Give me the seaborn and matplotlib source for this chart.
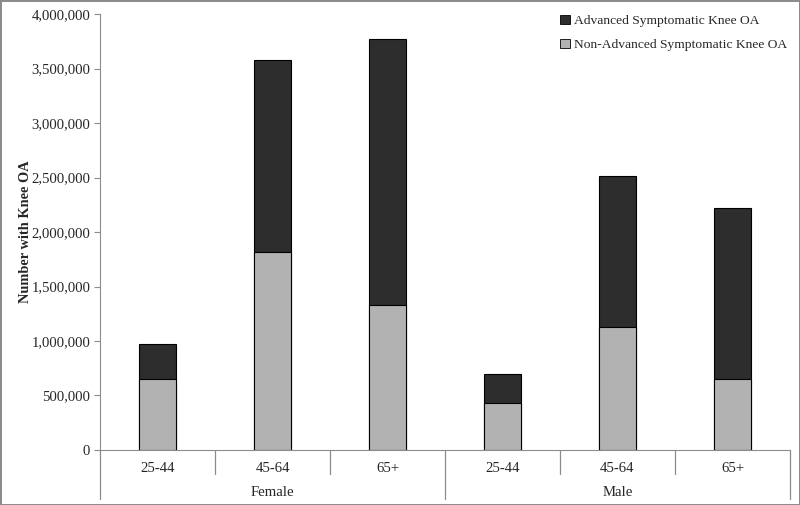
import numpy as np
import pandas as pd
import matplotlib
matplotlib.use("Agg")
import matplotlib.pyplot as plt
from matplotlib.patches import Patch
from matplotlib.ticker import FuncFormatter
import seaborn as sns

# --- dados ---
sexo = ["Female", "Female", "Female", "Male", "Male", "Male"]
idade = ["25-44", "45-64", "65+", "25-44", "45-64", "65+"]
nao_avancado = [655000, 1820000, 1330000, 430000, 1130000, 650000]
avancado = [315000, 1760000, 2445000, 265000, 1380000, 1570000]

df = pd.DataFrame({"sexo": sexo, "idade": idade,
                   "nao_avancado": nao_avancado, "avancado": avancado})
df["total"] = df["nao_avancado"] + df["avancado"]
df["chave"] = df["sexo"] + " " + df["idade"]

sns.set_style("white")
plt.rcParams["font.family"] = ["Liberation Serif", "DejaVu Serif"]

cor_escura = "#2d2d2d"
cor_clara = "#b2b2b2"
cinza = "#8c8c8c"
fs = 10.6

fig = plt.figure(figsize=(8, 5.05), dpi=100)
ax = fig.add_axes([0.125, 0.109, 0.8625, 0.863])

# barras empilhadas: total (escuro) e por cima a parte nao avancada (claro)
sns.barplot(data=df, x="chave", y="total", color=cor_escura, width=0.33,
            edgecolor="black", linewidth=0.8, saturation=1, ax=ax)
sns.barplot(data=df, x="chave", y="nao_avancado", color=cor_clara, width=0.33,
            edgecolor="black", linewidth=0.8, saturation=1, ax=ax)

ax.set_xlim(-0.5, 5.5)
ax.set_ylim(0, 4000000)
ax.set_yticks(np.arange(0, 4000001, 500000))
ax.yaxis.set_major_formatter(FuncFormatter(lambda v, p: f"{int(v):,}"))
ax.tick_params(axis="y", left=True, length=4, color=cinza, labelsize=fs, pad=3)
ax.set_ylabel("Number with Knee OA", fontsize=10.4, fontweight="bold")
ax.yaxis.set_label_coords(-0.098, 0.5)
ax.set_xlabel("")
ax.set_xticks([])

for lado in ["top", "right"]:
    ax.spines[lado].set_visible(False)
ax.spines["left"].set_color(cinza)
ax.spines["bottom"].set_color(cinza)

# eixo x com dois niveis (idade / sexo)
trans = ax.get_xaxis_transform()
for i, rot in enumerate(df["idade"]):
    ax.text(i, -0.043, rot, transform=trans, ha="center", va="center", fontsize=fs)
for j, g in enumerate(["Female", "Male"]):
    ax.text(1 + 3 * j, -0.097, g, transform=trans, ha="center", va="center", fontsize=fs)

for b in [0.5, 1.5, 3.5, 4.5]:
    ax.plot([b, b], [0, -0.055], transform=trans, color=cinza, lw=0.9, clip_on=False)
for b in [-0.5, 2.5, 5.5]:
    ax.plot([b, b], [0, -0.112], transform=trans, color=cinza, lw=0.9, clip_on=False)

# legenda
handles = [Patch(facecolor=cor_escura, edgecolor="black", linewidth=0.6,
                 label="Advanced Symptomatic Knee OA"),
           Patch(facecolor=cor_clara, edgecolor="black", linewidth=0.6,
                 label="Non-Advanced Symptomatic Knee OA")]
ax.legend(handles=handles, loc="upper right", bbox_to_anchor=(1.013, 1.026),
          frameon=False, fontsize=9.7, handlelength=0.7, handleheight=0.7,
          handletextpad=0.3, labelspacing=0.85)

# moldura da figura
fig.patch.set_edgecolor(cinza)
fig.patch.set_linewidth(2)

fig.savefig("out.png", dpi=100, edgecolor=fig.get_edgecolor())
